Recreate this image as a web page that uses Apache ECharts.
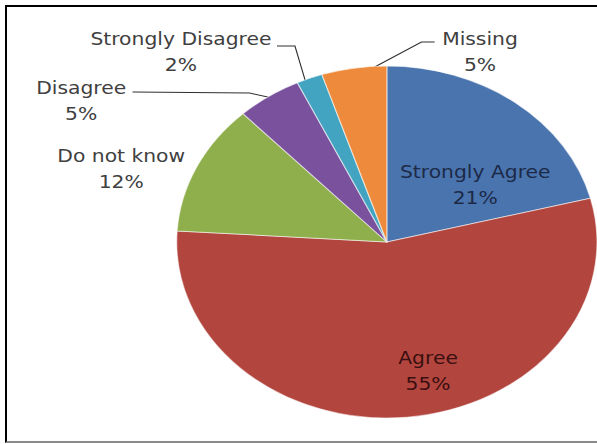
<!DOCTYPE html>
<html><head><meta charset="utf-8">
<script src="https://cdn.jsdelivr.net/npm/echarts@6/dist/echarts.min.js"></script>
<style>
html,body{margin:0;padding:0;background:#fff;width:597px;height:444px;overflow:hidden;}
#frame{position:absolute;left:5px;top:5px;width:620px;height:434px;border-left:2px solid #000;border-top:2px solid #000;border-bottom:2px solid #8a8a8a;}
#chart{position:absolute;left:0;top:0;width:500px;height:444px;transform:scaleX(1.194);transform-origin:0 0;}
</style></head><body>
<div id="frame"></div>
<div id="chart"></div>
<script>
// Data
const categories = ['Strongly Agree', 'Agree', 'Do not know', 'Disagree', 'Strongly Disagree', 'Missing'];
const values = [21, 55, 12, 5, 2, 5];

// Styles (kept apart from data)
const sliceColors = ['#4A74AE', '#B2463F', '#8FAF4C', '#7A519C', '#42A4C0', '#EE8A3B'];
const labelColors = ['#1c2a48', '#3a0f0f', '#404040', '#404040', '#404040', '#404040'];
// label centres (unscaled chart coordinates)
const labelPos = [[398, 185], [358.5, 371], [101.5, 169], [68, 101], [151.5, 52], [402, 52.5]];
// leader lines (slice -> bend -> label)
const leaders = [null, null, null,
  [[228, 98], [209, 93], [111, 92]],
  [[257, 86], [247, 46], [232, 46]],
  [[296.5, 78], [353, 42], [364, 42]]
];

const chart = echarts.init(document.getElementById('chart'), null, {renderer: 'svg'});
chart.setOption({
  backgroundColor: 'transparent',
  animation: false,
  series: [{
    type: 'pie',
    center: [324, 242],
    radius: 176,
    startAngle: 90,
    clockwise: true,
    avoidLabelOverlap: false,
    percentPrecision: 0,
    itemStyle: {borderColor: 'rgba(255,255,255,0.55)', borderWidth: 1},
    label: {
      show: true,
      position: 'outside',
      formatter: '{b}\n{d}%',
      fontFamily: 'DejaVu Sans',
      fontSize: 17,
      lineHeight: 26,
      color: '#404040',
      align: 'center'
    },
    labelLine: {show: true, lineStyle: {color: '#303030', width: 1}},
    labelLayout: function (p) {
      const L = labelPos[p.dataIndex];
      const r = {x: L[0], y: L[1], align: 'center', verticalAlign: 'middle'};
      if (leaders[p.dataIndex]) r.labelLinePoints = leaders[p.dataIndex];
      return r;
    },
    data: categories.map((c, i) => ({
      name: c,
      value: values[i],
      itemStyle: {color: sliceColors[i]},
      label: {color: labelColors[i]},
      labelLine: {show: !!leaders[i]}
    }))
  }]
});
</script>
</body></html>
